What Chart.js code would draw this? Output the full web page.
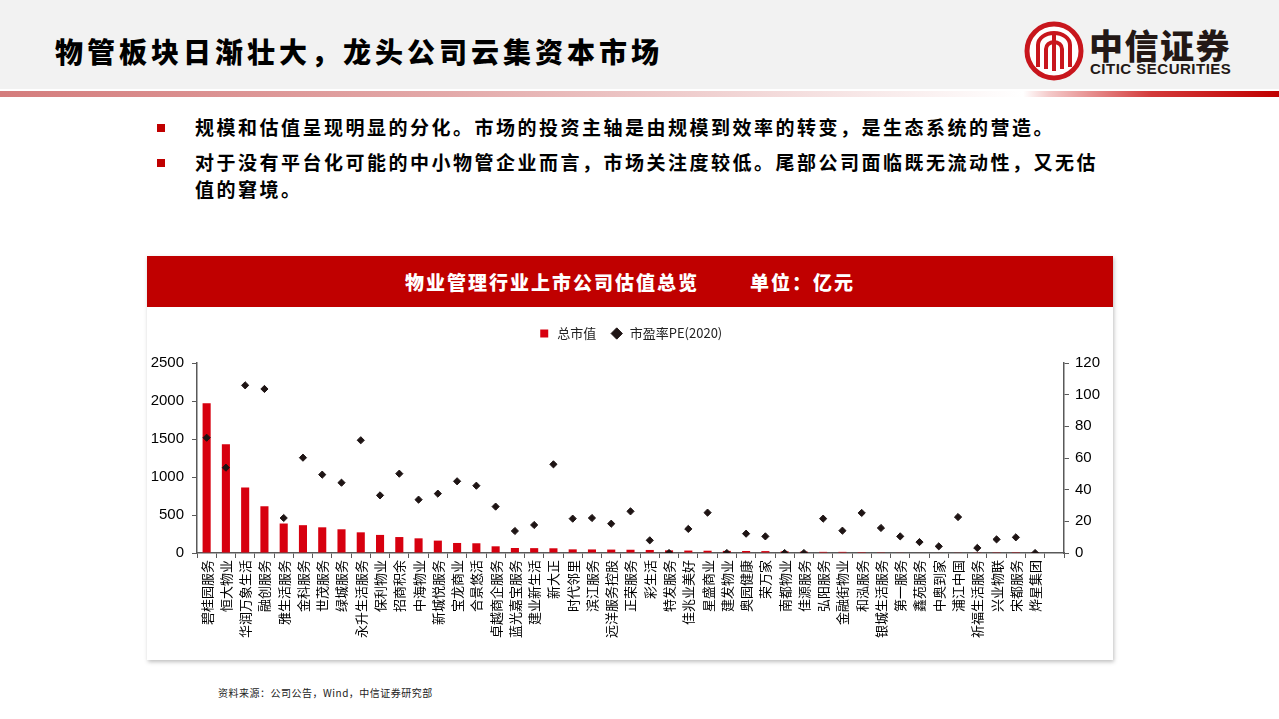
<!DOCTYPE html>
<html>
<head>
<meta charset="utf-8">
<script src="https://cdn.jsdelivr.net/npm/chart.js@4"></script>
<style>
  body { margin: 0; width: 1279px; height: 719px; background: #fff; position: relative; overflow: hidden;
         font-family: "Noto Sans CJK SC", "Liberation Sans", sans-serif; }
  .top { position: absolute; left: 0; top: 0; width: 1279px; height: 89px; background: #f2f2f2; }
  .stripe { position: absolute; left: 0; top: 91px; width: 1279px; height: 6px;
            background: linear-gradient(to right, #d47c7c 0%, #e3a9a9 35%, #f6e3e3 65%, #ffffff 80%, #f4caca 82%, #d33a3a 90%, #c00000 100%); }
  .title { position: absolute; left: 55px; top: 31px; font-size: 28px; font-weight: 900; letter-spacing: 4px; color: #000; }
  .logo { position: absolute; left: 1024px; top: 21px; }
  .brand { position: absolute; left: 1089px; top: 20px; font-size: 34px; font-weight: 900; color: #231815; letter-spacing: 1.5px; }
  .brand-en { position: absolute; left: 1090px; top: 60px; font-family: "Liberation Sans", sans-serif; font-size: 15px; font-weight: bold; color: #231815; letter-spacing: 0.5px; }
  .bullet { position: absolute; left: 157px; width: 8px; height: 8px; background: #c00000; }
  .para { position: absolute; left: 195px; font-size: 19px; font-weight: bold; letter-spacing: 2.5px; color: #000; line-height: 27px; }
  .panel { position: absolute; left: 147px; top: 256px; width: 966px; height: 404px; background: #fff;
           box-shadow: 1px 2px 4px rgba(0,0,0,0.25); }
  .panel-head { position: absolute; left: 0; top: 0; width: 966px; height: 51px; background: #c00000; color: #fff;
                font-size: 19px; font-weight: 900; letter-spacing: 2px; line-height: 51px; text-align: center; white-space: pre; }
  .chart-box { position: absolute; left: 0; top: 51px; width: 966px; height: 353px; }
  .source { position: absolute; left: 218px; top: 685px; font-size: 10px; color: #222; letter-spacing: 0.5px; }
</style>
</head>
<body>
<div class="top"></div>
<div class="stripe"></div>
<div class="title">物管板块日渐壮大，龙头公司云集资本市场</div>
<svg class="logo" width="60" height="60" viewBox="0 0 60 60">
  <circle cx="30" cy="30" r="27" fill="#fff" stroke="#c8161d" stroke-width="5"/>
  <path d="M14 46 V24 A16 12 0 0 1 46 24 V46" fill="none" stroke="#c8161d" stroke-width="4"/>
  <path d="M22 48 V28 A8 7 0 0 1 38 28 V48" fill="none" stroke="#c8161d" stroke-width="4"/>
  <rect x="28" y="12" width="4" height="38" fill="#c8161d"/>
</svg>
<div class="brand">中信证券</div>
<div class="brand-en">CITIC SECURITIES</div>

<div class="bullet" style="top:124px"></div>
<div class="para" style="top:113px">规模和估值呈现明显的分化。市场的投资主轴是由规模到效率的转变，是生态系统的营造。</div>
<div class="bullet" style="top:159px"></div>
<div class="para" style="top:148px">对于没有平台化可能的中小物管企业而言，市场关注度较低。尾部公司面临既无流动性，又无估<br>值的窘境。</div>

<div class="panel">
  <div class="panel-head">物业管理行业上市公司估值总览        单位：亿元</div>
  <div class="chart-box"><canvas id="valuationChart"></canvas></div>
</div>
<div class="source">资料来源：公司公告，Wind，中信证券研究部</div>

<script>
const companies = [
  "碧桂园服务", "恒大物业", "华润万象生活", "融创服务", "雅生活服务", "金科服务", "世茂服务", "绿城服务",
  "永升生活服务", "保利物业", "招商积余", "中海物业", "新城悦服务", "宝龙商业", "合景悠活", "卓越商企服务",
  "蓝光嘉宝服务", "建业新生活", "新大正", "时代邻里", "滨江服务", "远洋服务控股", "正荣服务", "彩生活",
  "特发服务", "佳兆业美好", "星盛商业", "建发物业", "奥园健康", "荣万家", "南都物业", "佳源服务",
  "弘阳服务", "金融街物业", "和泓服务", "银城生活服务", "第一服务", "鑫苑服务", "中奥到家", "浦江中国",
  "祈福生活服务", "兴业物联", "宋都服务", "烨星集团", ""
];

// 总市值（亿元）
const marketCap = [
  1970, 1430, 862, 615, 388, 366, 338, 312,
  272, 238, 210, 193, 163, 132, 128, 88,
  66, 64, 62, 48, 47, 45, 43, 40,
  35, 32, 30, 28, 26, 25, 22, 18,
  15, 15, 12, 10, 8, 7, 6, 5,
  4, 3, 2, 1, null
];

// 市盈率PE(2020)
const peRatio = [
  72.8, 53.9, 105.9, 103.6, 22.1, 60.2, 49.5, 44.4,
  71.2, 36.4, 50.1, 33.7, 37.5, 45.3, 42.5, 29.3,
  13.9, 17.7, 56.0, 21.7, 22.1, 18.5, 26.3, 8.0,
  0, 15.2, 25.5, 0, 12.2, 10.5, 0, 0,
  21.7, 14.1, 25.3, 15.8, 10.5, 6.9, 4.2, 22.7,
  3.2, 8.6, 9.9, 0, null
];

const axisColor = "#595959";
const numFont = { family: "'Liberation Sans', Arial, sans-serif", size: 15 };

// extra room between legend and plot
const legendGap = {
  id: "legendGap",
  beforeInit(chart) {
    const fit = chart.legend.fit;
    chart.legend.fit = function () {
      fit.bind(chart.legend)();
      this.height += 13;
    };
  },
};

new Chart(document.getElementById("valuationChart"), {
  data: {
    labels: companies,
    datasets: [
      {
        type: "scatter",
        label: "市盈率PE(2020)",
        data: peRatio,
        yAxisID: "y1",
        backgroundColor: "#1e1414",
        borderColor: "#1e1414",
        pointStyle: "rectRot",
        pointRadius: 3.6,
        pointHoverRadius: 3.6,
        order: 0,
      },
      {
        type: "bar",
        label: "总市值",
        data: marketCap,
        yAxisID: "y",
        backgroundColor: "#d7000f",
        pointStyle: "rect",
        barPercentage: 0.42,
        categoryPercentage: 1,
        order: 1,
      },
    ],
  },
  plugins: [legendGap],
  options: {
    responsive: true,
    maintainAspectRatio: false,
    animation: false,
    layout: { padding: { top: 6, bottom: 12 } },
    plugins: {
      legend: {
        position: "top",
        reverse: true,
        labels: {
          usePointStyle: true,
          boxHeight: 8,
          padding: 14,
          color: "#222",
          font: { family: "'Noto Sans CJK SC', sans-serif", size: 13 },
        },
      },
      tooltip: { enabled: false },
    },
    scales: {
      x: {
        type: "category",
        offset: true,
        grid: { offset: true, drawOnChartArea: false, tickLength: 5, color: axisColor },
        border: { color: axisColor, width: 1.5 },
        ticks: {
          autoSkip: false,
          maxRotation: 90,
          minRotation: 90,
          padding: 2,
          color: "#000",
          font: { family: "'Noto Sans CJK SC', sans-serif", size: 13 },
        },
        afterFit: (scale) => { scale.height = 95; },
      },
      y: {
        position: "left",
        min: 0,
        max: 2500,
        ticks: { stepSize: 500, padding: 8, color: "#000", font: numFont, callback: (v) => String(v) },
        grid: { drawOnChartArea: false, tickLength: 5, color: axisColor },
        border: { color: axisColor, width: 1.5 },
        afterFit: (scale) => { scale.width = 50; },
      },
      y1: {
        position: "right",
        min: 0,
        max: 120,
        ticks: { stepSize: 20, padding: 6, color: "#000", font: numFont, callback: (v) => String(v) },
        grid: { drawOnChartArea: false, tickLength: 5, color: axisColor },
        border: { color: axisColor, width: 1.5 },
        afterFit: (scale) => { scale.width = 49; },
      },
    },
  },
});
</script>
</body>
</html>
